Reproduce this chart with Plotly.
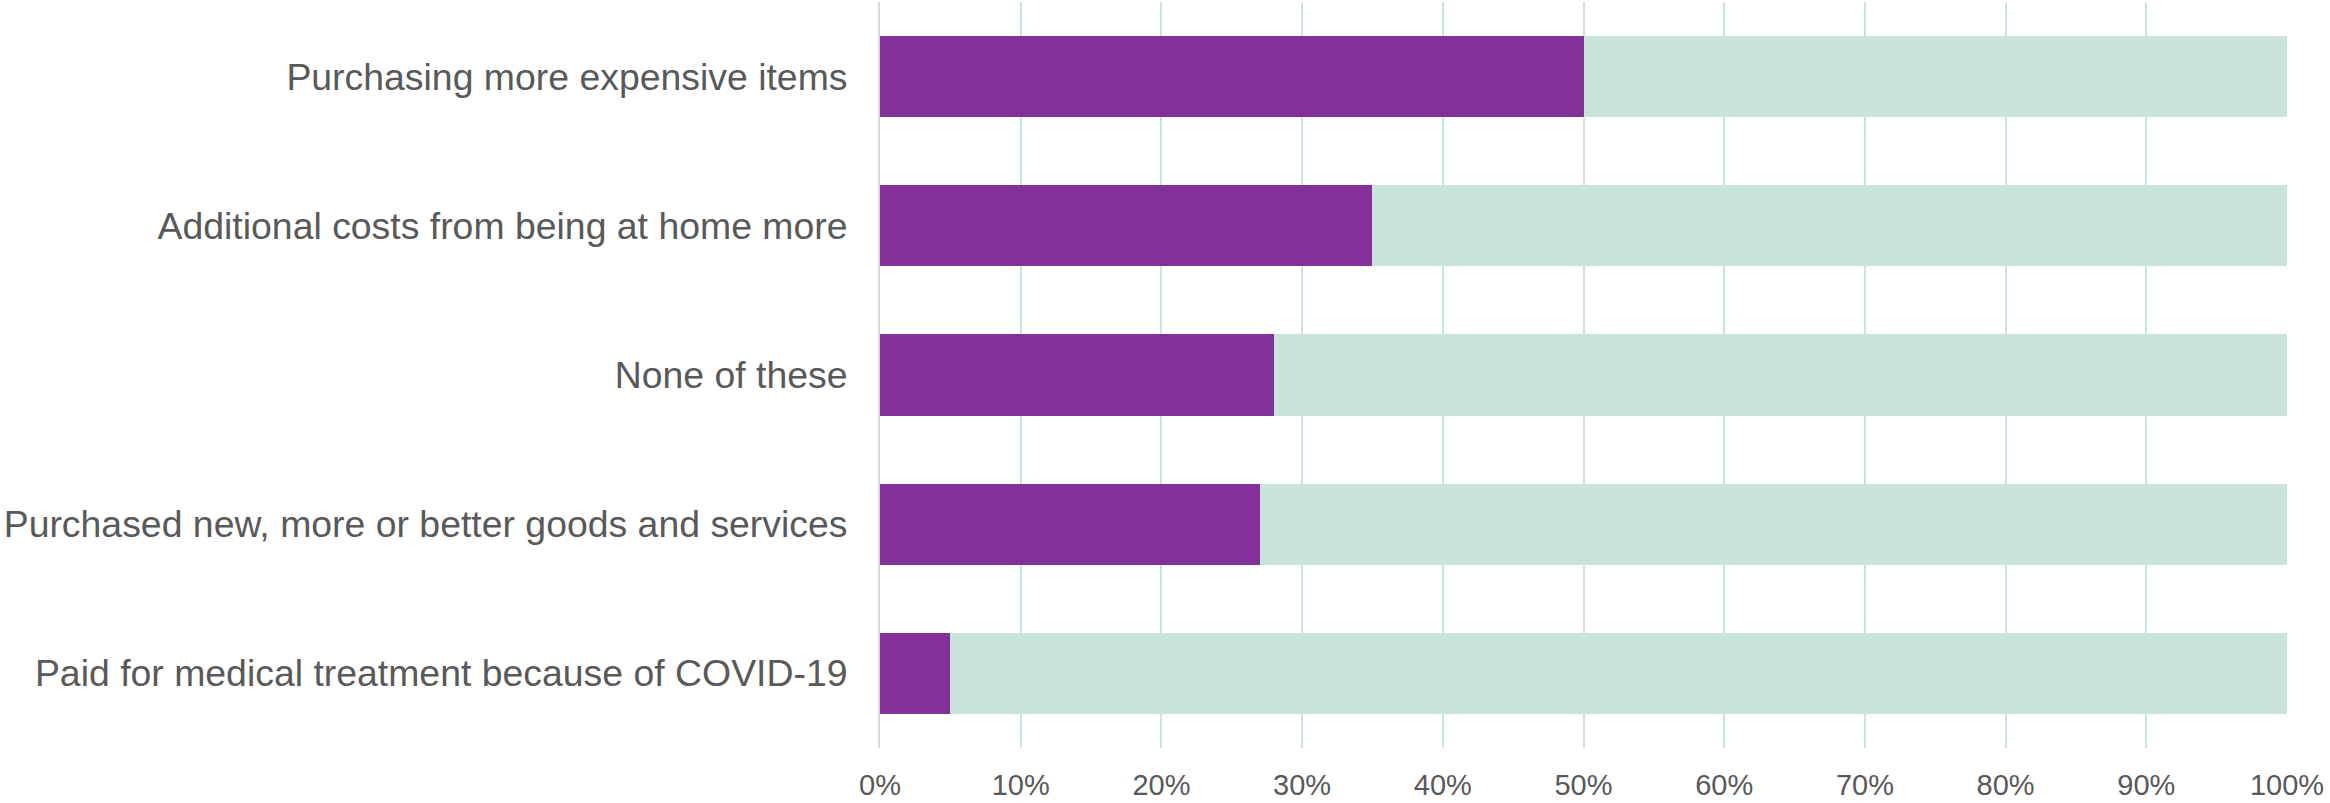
import plotly.graph_objects as go

categories = [
    "Paid for medical treatment because of COVID-19",
    "Purchased new, more or better goods and services",
    "None of these",
    "Additional costs from being at home more",
    "Purchasing more expensive items",
]
yes_share = [5, 27, 28, 35, 50]
rest_share = [100 - v for v in yes_share]
tick_vals = list(range(0, 101, 10))
tick_text = [f"{v}%" for v in tick_vals]

PURPLE = "#833199"
TEAL = "#c9e4dc"
TEXT = "#595959"

fig = go.Figure()
fig.add_trace(go.Bar(
    y=categories, x=yes_share, orientation="h",
    marker=dict(color=PURPLE, line=dict(width=0)),
    hoverinfo="skip",
))
fig.add_trace(go.Bar(
    y=categories, x=rest_share, orientation="h",
    marker=dict(color=TEAL, line=dict(width=0)),
    hoverinfo="skip",
))

fig.update_layout(
    barmode="stack",
    bargap=0.457,
    width=2330, height=803,
    margin=dict(l=880, r=43, t=2, b=55, autoexpand=False),
    paper_bgcolor="white", plot_bgcolor="white",
    showlegend=False,
    font=dict(family="Liberation Sans, Arial, sans-serif", color=TEXT),
)
fig.update_xaxes(
    range=[0, 100], tickvals=tick_vals, ticktext=tick_text,
    showgrid=True, gridcolor=TEAL, gridwidth=2,
    zeroline=False, showline=False,
    ticks="", ticklabelstandoff=17,
    tickfont=dict(size=29, color=TEXT),
)
fig.update_yaxes(
    categoryorder="array", categoryarray=categories,
    showgrid=False, zeroline=False,
    showline=True, linecolor="#d9d9d9", linewidth=2,
    ticks="", ticklabelstandoff=23,
    tickfont=dict(size=37.4, color=TEXT),
)

fig.write_html("out.html")
